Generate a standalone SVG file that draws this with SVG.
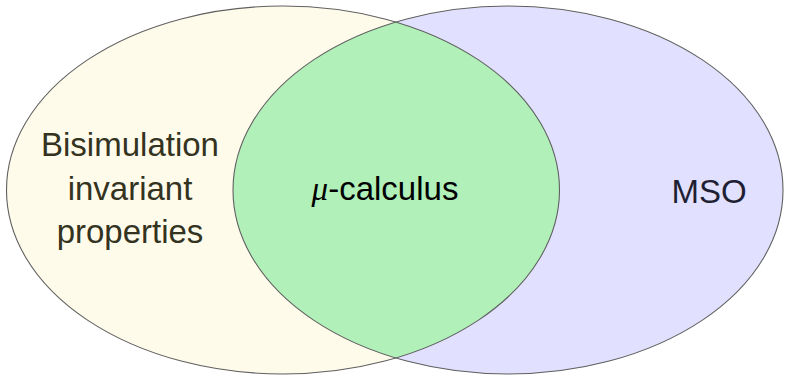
<svg xmlns="http://www.w3.org/2000/svg" width="785" height="376" viewBox="0 0 785 376">
<style>
.outline{fill:none;stroke:#606060;stroke-width:1.1}
.lbl{font-family:"Liberation Sans","DejaVu Sans",sans-serif;font-size:33px;text-anchor:middle}
</style>
<defs>
<clipPath id="clipLeft"><ellipse cx="283" cy="190" rx="276.5" ry="184"/></clipPath>
</defs>
<rect width="785" height="376" fill="#ffffff"/>
<g id="bisimulation">
<ellipse cx="283" cy="190" rx="276.5" ry="184" fill="#fffbea"/>
</g>
<g id="mso">
<ellipse cx="508" cy="190" rx="275" ry="184" fill="#e1e1ff"/>
</g>
<g id="mucalculus">
<ellipse cx="508" cy="190" rx="275" ry="184" fill="#b1f0b8" clip-path="url(#clipLeft)"/>
</g>
<g id="outlines">
<ellipse class="outline" cx="283" cy="190" rx="276.5" ry="184"/>
<ellipse class="outline" cx="508" cy="190" rx="275" ry="184"/>
</g>
<g id="labels">
<text class="lbl" x="130" y="156" fill="#33331f">Bisimulation</text>
<text class="lbl" x="130" y="200" fill="#33331f">invariant</text>
<text class="lbl" x="130" y="243" fill="#33331f">properties</text>
<text class="lbl" x="709" y="203" fill="#1f1f33">MSO</text>
<text class="lbl" x="385" y="200" fill="#000000"><tspan font-family="'Liberation Serif',serif" font-style="italic">μ</tspan>-calculus</text>
</g>
</svg>
